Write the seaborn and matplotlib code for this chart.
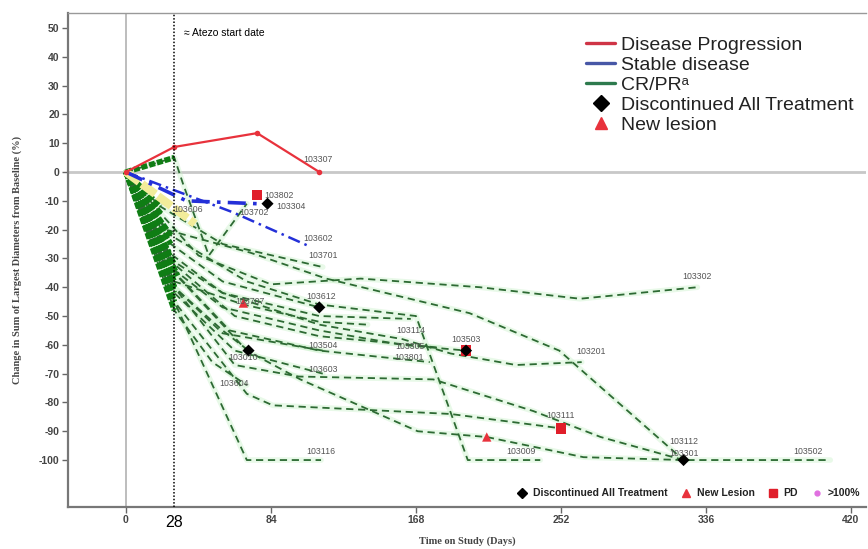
import matplotlib
matplotlib.use("Agg")
import matplotlib.pyplot as plt
import pandas as pd
import seaborn as sns
from matplotlib.lines import Line2D

sns.set_theme(style="white")
plt.rcParams["font.family"] = ["Liberation Sans", "DejaVu Sans"]
plt.rcParams["axes.unicode_minus"] = False

# ---------------- data ----------------
# Disease progression (solid red)
pd_ids = ["103307"]
pd_days = [[0, 28, 76, 112]]
pd_pct = [[0, 8.7, 13.5, 0]]

# Stable disease (blue dash-dot)
sd_ids = ["103304", "103602"]
sd_days = [[0, 35, 76, 82], [0, 62, 107]]
sd_pct = [[0, -10, -11, -11], [0, -14, -26]]

# Unconfirmed response (pale yellow)
uc_ids = ["103606"]
uc_days = [[0, 40]]
uc_pct = [[0, -18]]

# CR/PR (green dashed)
cr_ids = ["103302", "103112", "103201", "103503", "103114", "103612", "103701",
          "103111", "103301", "103502", "103116", "103305", "103801", "103504",
          "103010", "103604", "103707", "103702", "103603", "103009"]
cr_days = [
    [0, 21, 42, 84, 136, 205, 263, 331],
    [0, 23, 72, 116, 199, 251, 323],
    [0, 25, 56, 112, 160, 188, 226, 264],
    [0, 28, 56, 112, 160, 197],
    [0, 25, 56, 112, 165],
    [0, 26, 56, 112],
    [0, 20, 56, 114],
    [0, 28, 70, 85, 188, 252],
    [0, 28, 63, 100, 178, 236, 275, 323],
    [0, 28, 70, 101, 169, 209, 265, 323, 408],
    [0, 28, 70, 113],
    [0, 28, 63, 112, 182],
    [0, 30, 60, 112, 176],
    [0, 28, 56, 114],
    [0, 28, 56, 71],
    [0, 28, 50, 70],
    [0, 28, 68, 112, 140],
    [0, 28, 33, 48, 70],
    [0, 28, 63, 114],
    [0, 26, 70, 112, 168, 198, 240],
]
cr_pct = [
    [0, -15, -29, -39, -37, -40, -44, -40],
    [0, -20, -28, -37, -49, -62, -100],
    [0, -30, -42, -53, -58, -63, -67, -66],
    [0, -34, -47, -55, -60, -62],
    [0, -28, -42, -50, -51],
    [0, -25, -38, -47],
    [0, -12, -25, -33],
    [0, -45, -77, -81, -84, -89],
    [0, -40, -67, -71, -72, -83, -92, -100],
    [0, -35, -62, -72, -90, -92, -99, -100, -100],
    [0, -45, -100, -100],
    [0, -32, -50, -57, -61],
    [0, -36, -55, -62, -66],
    [0, -40, -56, -62],
    [0, -40, -55, -62],
    [0, -48, -66, -74],
    [0, -38, -46, -52, -53],
    [0, 5, -4, -29, -11],
    [0, -42, -62, -70],
    [0, -22, -38, -46, -50, -100, -100],
]

# Events
disc_days = [82, 112, 71, 323, 197]
disc_pct = [-11, -47, -62, -100, -62]
newles_days = [68, 209]
newles_pct = [-45.5, -92]
prog_ids = ["103802", "103503", "103111"]
prog_days = [76, 197, 252]
prog_pct = [-8, -62, -89]

# ---------------- long table ----------------
rows = []
for grp, ids, days, pcts in [("PD", pd_ids, pd_days, pd_pct),
                             ("SD", sd_ids, sd_days, sd_pct),
                             ("UC", uc_ids, uc_days, uc_pct),
                             ("CR", cr_ids, cr_days, cr_pct)]:
    for pid, d, p in zip(ids, days, pcts):
        for i, (dd, pp) in enumerate(zip(d, p)):
            rows.append({"group": grp, "patient": pid, "visit": i, "day": dd, "pct": pp})
df = pd.DataFrame(rows)

# ---------------- figure ----------------
fig = plt.figure(figsize=(8.68, 5.49), dpi=100)
ax = fig.add_axes([0.0783, 0.0765, 0.9194, 0.8998])

ax.axvline(0, color="#bdbdbd", lw=1.4, zorder=1)
ax.axhline(0, color="#c8c8c8", lw=2.0, zorder=1)
ax.axvline(28, color="black", lw=1.1, ls=(0, (1, 1.2)), zorder=6)

green = "#2d6a33"
halo = "#c6f0c6"

for pid in cr_ids:
    sub = df[df.patient == pid]
    sns.lineplot(data=sub, x="day", y="pct", ax=ax, estimator=None, sort=False,
                 color=halo, lw=4, alpha=0.4, zorder=2, legend=False)
for pid in cr_ids:
    sub = df[df.patient == pid]
    sns.lineplot(data=sub, x="day", y="pct", ax=ax, estimator=None, sort=False,
                 color=green, lw=1.3, linestyle=(0, (4, 2.6)), zorder=3, legend=False)
    first = sub[sub.visit <= 1]
    sns.lineplot(data=first, x="day", y="pct", ax=ax, estimator=None, sort=False,
                 color="#0f7d14", lw=4.0, linestyle=(0, (1.1, 0.35)), zorder=3,
                 legend=False)

for pid in uc_ids:
    sub = df[df.patient == pid]
    sns.lineplot(data=sub, x="day", y="pct", ax=ax, estimator=None, sort=False,
                 color="#f2ec9a", lw=6, linestyle=(0, (2, 0.4)), zorder=4, legend=False)

for pid, lw in zip(sd_ids, [2.6, 1.8]):
    sub = df[df.patient == pid]
    sns.lineplot(data=sub, x="day", y="pct", ax=ax, estimator=None, sort=False,
                 color="#2430d8", lw=lw, linestyle=(0, (5, 2, 1, 2)), zorder=5,
                 legend=False)

for pid in pd_ids:
    sub = df[df.patient == pid]
    sns.lineplot(data=sub, x="day", y="pct", ax=ax, estimator=None, sort=False,
                 color="#e8323c", lw=1.6, marker="o", markersize=4,
                 markeredgewidth=0, zorder=5, legend=False)

sns.scatterplot(x=prog_days, y=prog_pct, ax=ax, marker="s", color="#e01e2a",
                s=55, edgecolor="none", zorder=7)
sns.scatterplot(x=disc_days, y=disc_pct, ax=ax, marker="D", color="black",
                s=38, edgecolor="none", zorder=8)
sns.scatterplot(x=newles_days, y=newles_pct, ax=ax, marker="^", color="#e8323c",
                s=45, edgecolor="none", zorder=8)

# patient tags (offsets in points from the tagged visit)
tag_pos = {
    "103307": (-1, 9, -1), "103304": (17, -2, -1), "103602": (5, 6, -1),
    "103701": (0, 8, -1), "103612": (1, 8, -1), "103302": (0, 8, -1),
    "103201": (7, 8, -1), "103503": (0, 8, -1), "103114": (0, -8, -1),
    "103305": (-22, 1, -1), "103801": (-15, 3, -1), "103504": (0, 4, -1),
    "103603": (0, 3, -1), "103010": (-4, -5, -1), "103604": (-9, 1, -1),
    "103707": (5, 2, 2), "103702": (5, -6, -1), "103111": (0, 9, -1),
    "103112": (0, 13, -1), "103301": (0, 5, -1), "103502": (-16, 6, -1),
    "103116": (0, 6, -1), "103009": (-14, 6, -1), "103606": (-5, 10, -1),
}
for pid, (dx, dy, idx) in tag_pos.items():
    sub = df[df.patient == pid]
    pt = sub.iloc[idx]
    ax.annotate(pid, (pt.day, pt.pct), xytext=(dx, dy), textcoords="offset points",
                ha="center", va="center", fontsize=6.3, color="#555555", zorder=9)
ax.annotate(prog_ids[0], (prog_days[0], prog_pct[0]), xytext=(16, 0),
            textcoords="offset points", ha="center", va="center", fontsize=6.3,
            color="#555555", zorder=9)

ax.annotate("\u2248 Atezo start date", (28, 0.96), xycoords=ax.get_xaxis_transform(),
            xytext=(7, 0), textcoords="offset points", ha="left", va="center",
            fontsize=7.5, color="black")
ax.annotate("28", (28, -0.032), xycoords=ax.get_xaxis_transform(), ha="center",
            va="center", fontsize=11.5, color="black", annotation_clip=False)

# ---------------- axes ----------------
ax.set_xlim(-33.6, 428.7)
ax.set_ylim(-116.3, 55.2)
ax.set_xticks([0, 84, 168, 252, 336, 420])
ax.set_yticks(list(range(-100, 51, 10)))
ax.tick_params(axis="both", which="major", direction="out", length=4, width=1,
               color="#666666", labelsize=7.5, labelcolor="#444444", pad=2,
               bottom=True, left=True)
for lab in ax.get_xticklabels() + ax.get_yticklabels():
    lab.set_fontweight("bold")
for sp in ax.spines.values():
    sp.set_color("#777777")
    sp.set_linewidth(1.6)
ax.spines["right"].set_visible(False)
ax.spines["top"].set_color("#999999")
ax.spines["top"].set_linewidth(1.0)

ax.set_xlabel("Time on Study (Days)", fontsize=7.5, family="Liberation Serif",
              fontweight="bold", color="#444444", labelpad=8)
ax.set_ylabel("Change in Sum of Largest Diameters from Baseline (%)", fontsize=7.5,
              family="Liberation Serif", fontweight="bold", color="#444444",
              labelpad=12)

# ---------------- legends ----------------
main_handles = [
    Line2D([], [], color="#cf3446", lw=2.4),
    Line2D([], [], color="#4757a6", lw=2.4),
    Line2D([], [], color="#2d7a4d", lw=2.4),
    Line2D([], [], color="black", marker="D", ls="none", markersize=8.5),
    Line2D([], [], color="#e8323c", marker="^", ls="none", markersize=8.5),
]
main_labels = ["Disease Progression", "Stable disease", "CR/PR\u1d43",
               "Discontinued All Treatment", "New lesion"]
leg1 = fig.legend(main_handles, main_labels, loc="upper left",
                  bbox_to_anchor=(0.66, 0.958), frameon=False, fontsize=14,
                  handlelength=1.45, handletextpad=0.35, labelspacing=0.12,
                  borderpad=0.2)
for t in leg1.get_texts():
    t.set_color("#222222")

ev_handles = [
    Line2D([], [], color="black", marker="D", ls="none", markersize=5),
    Line2D([], [], color="#e8323c", marker="^", ls="none", markersize=6),
    Line2D([], [], color="#e01e2a", marker="s", ls="none", markersize=5.5),
    Line2D([], [], color="#e070e0", marker="o", ls="none", markersize=3.5),
]
ev_labels = ["Discontinued All Treatment", "New Lesion", "PD", ">100%"]
leg2 = ax.legend(ev_handles, ev_labels, loc="lower right", bbox_to_anchor=(1.0, 0.005),
                 ncol=4, frameon=False, handlelength=1.0, handletextpad=0.5,
                 columnspacing=1.3, borderaxespad=0.2,
                 prop={"size": 7.5, "weight": "bold"})
for t in leg2.get_texts():
    t.set_color("#222222")

fig.savefig("out.png", dpi=100)
